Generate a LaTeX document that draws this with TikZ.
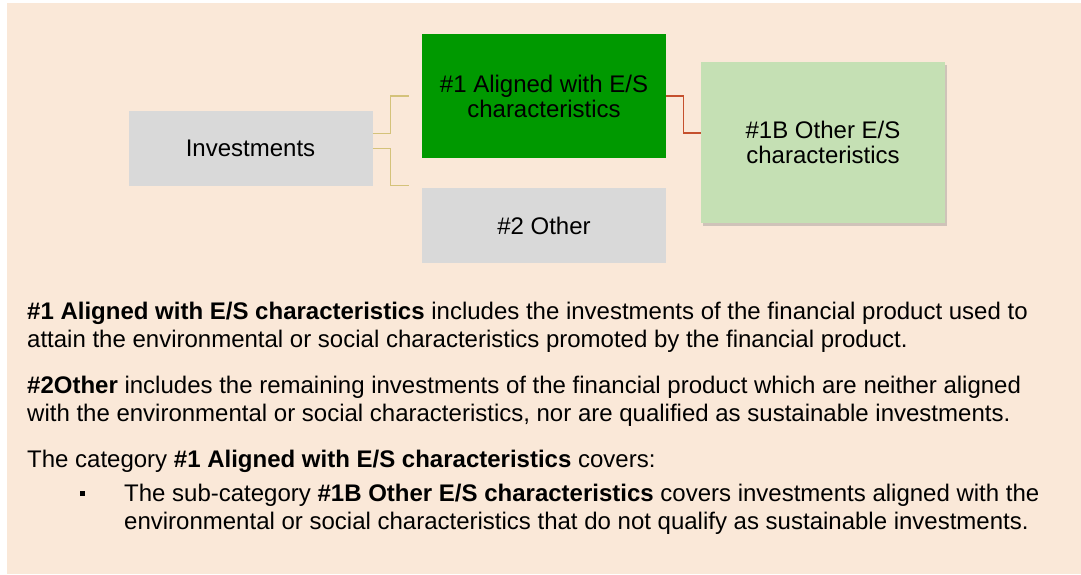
\documentclass[tikz,border=0pt]{standalone}
\usepackage{fontspec}
\setmainfont{Liberation Sans}
\usetikzlibrary{shadows}

\definecolor{beige}{RGB}{250,232,216}
\definecolor{boxgray}{RGB}{217,217,217}
\definecolor{darkgreen}{RGB}{0,153,0}
\definecolor{lightgreen}{RGB}{197,224,180}
\definecolor{tanline}{RGB}{212,194,122}
\definecolor{redline}{RGB}{197,80,45}

\tikzset{
  catbox/.style={minimum width=244pt, align=center, inner sep=0pt,
    font=\fontsize{24}{25}\selectfont},
  tanconn/.style={draw=tanline, line width=1.2pt},
  redconn/.style={draw=redline, line width=1.2pt},
  bodytext/.style={anchor=base west, align=left, inner sep=0pt,
    font=\fontsize{24}{28}\selectfont}
}

\begin{document}
\begin{tikzpicture}[x=1pt, y=-1pt]
		\useasboundingbox (0,0) rectangle (1081,574);
		\fill[beige] (7,3) rectangle (1081,574);
		% boxes
		\node[catbox, fill=boxgray, minimum height=75pt] (inv) at (250.5,148.5) {Investments};
		\node[catbox, fill=darkgreen, minimum height=124pt] (aligned) at (544,96) {\#1 Aligned with E/S\\characteristics};
		\node[catbox, fill=boxgray, minimum height=75pt] (other) at (544,225.5) {\#2 Other};
		\node[catbox, fill=lightgreen, minimum height=161pt,
		  drop shadow={shadow xshift=2pt, shadow yshift=-3pt, opacity=0.35}] (otheres) at (823,142.5) {\#1B Other E/S\\characteristics};
		% connectors
		\draw[tanconn] ([yshift=15pt]inv.east) -- ++(18,0) |- ([xshift=-13pt]aligned.west);
		\draw[tanconn] (inv.east) -- ++(18,0) |- ([xshift=-13pt, yshift=2pt]other.north west);
		\draw[redconn] (aligned.east) -- ++(17,0) |- ([yshift=9.5pt]otheres.west);
		% explanations (anchor sits on the last line)
		\node[bodytext] (p1) at (27,347) {\textbf{\#1 Aligned with E/S characteristics} includes the investments of the financial product used to\\attain the environmental or social characteristics promoted by the financial product.};
		\node[bodytext] (p2) at (27,421) {\textbf{\#2Other} includes the remaining investments of the financial product which are neither aligned\\with the environmental or social characteristics, nor are qualified as sustainable investments.};
		\node[bodytext] (p3) at (27,467) {The category \textbf{\#1 Aligned with E/S characteristics} covers:};
		\node[fill=black, inner sep=0pt, minimum size=5pt] (bul) at (82,493) {};
		\node[bodytext] (p4) at (124,529) {The sub-category \textbf{\#1B Other E/S characteristics} covers investments aligned with the\\environmental or social characteristics that do not qualify as sustainable investments.};
		\end{tikzpicture}
\end{document}
